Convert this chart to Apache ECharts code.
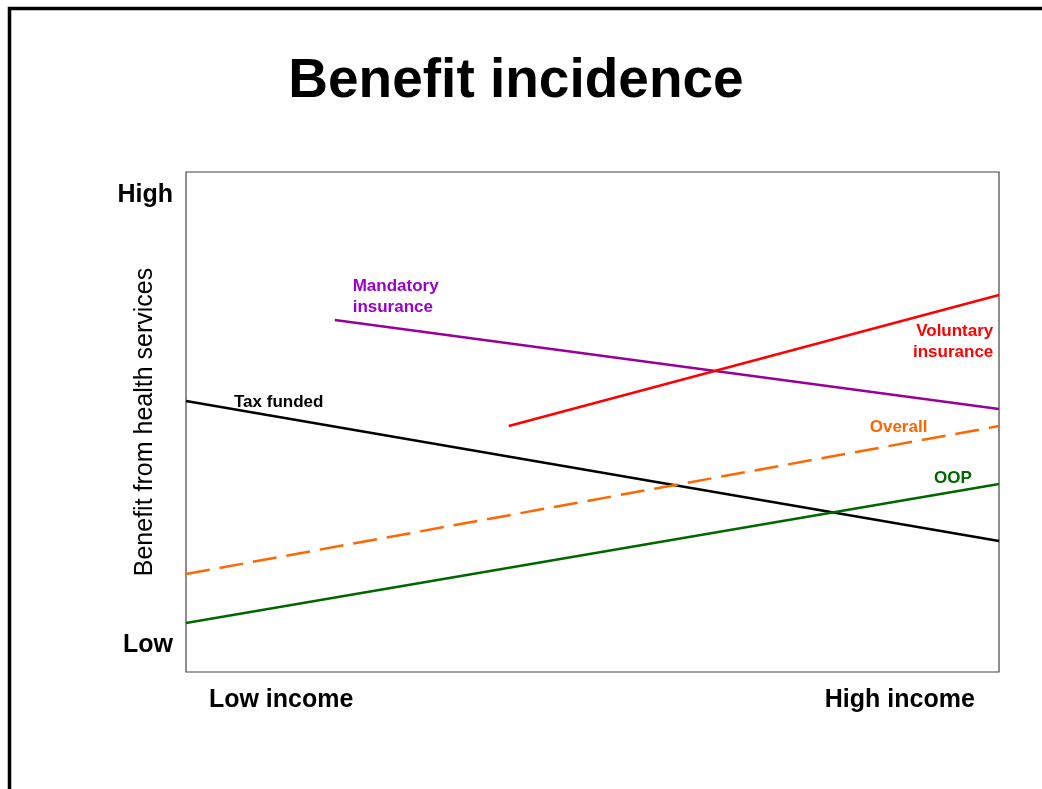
<!DOCTYPE html>
<html>
<head>
<meta charset="utf-8">
<script src="https://cdn.jsdelivr.net/npm/echarts@6/dist/echarts.min.js"></script>
<style>
html,body{margin:0;padding:0;background:#fff;}
#chart{width:1042px;height:789px;}
</style>
</head>
<body>
<div id="chart"></div>
<script>
// Income position (0 = low, 100 = high) and benefit level (0 = low, 100 = high)
const taxX = [0, 100];
const taxY = [54.2, 26.2];
const mandatoryX = [18.3, 100];
const mandatoryY = [70.4, 52.6];
const voluntaryX = [39.7, 100];
const voluntaryY = [49.2, 75.4];
const overallX = [0, 100];
const overallY = [19.6, 49.2];
const oopX = [0, 100];
const oopY = [9.8, 37.6];

const xTickValues = [11.7, 87.8];
const xTickLabels = ['Low income', 'High income'];
const yTickValues = [5.4, 95.4];
const yTickLabels = ['Low', 'High'];

const FONT = '"Liberation Sans", Arial, Helvetica, sans-serif';

function pts(xs, ys) { return xs.map((x, i) => [x, ys[i]]); }

function lineSeries(name, xs, ys, color, lbl, lineType) {
  return {
    name: name,
    type: 'line',
    data: pts(xs, ys),
    symbol: 'none',
    silent: true,
    lineStyle: { color: color, width: 2.5, type: lineType || 'solid' },
    markPoint: {
      symbol: 'circle',
      symbolSize: 0,
      silent: true,
      data: [{
        coord: lbl.coord,
        label: {
          show: true,
          formatter: lbl.text,
          color: lbl.color || color,
          fontFamily: FONT,
          fontWeight: 'bold',
          fontSize: 17,
          lineHeight: 21,
          position: lbl.align === 'right' ? 'left' : 'right',
          distance: 0,
          align: lbl.align || 'left',
          verticalAlign: 'middle'
        }
      }]
    }
  };
}

const chart = echarts.init(document.getElementById('chart'), null, { renderer: 'canvas' });

chart.setOption({
  backgroundColor: '#ffffff',
  animation: false,
  title: {
    text: 'Benefit incidence',
    left: 511,
    top: 48,
    textAlign: 'center',
    textStyle: { fontFamily: FONT, fontWeight: 'bold', fontSize: 55, color: '#000', lineHeight: 58 }
  },
  graphic: [{
    type: 'polyline',
    silent: true,
    shape: { points: [[9.5, 789], [9.5, 8.5], [1042, 8.5]] },
    style: { stroke: '#000', lineWidth: 3.5, fill: null }
  }],
  grid: {
    left: 186, top: 172, right: 43, bottom: 117,
    show: true, borderColor: '#444', borderWidth: 1.2, backgroundColor: 'transparent'
  },
  xAxis: {
    type: 'value', min: 0, max: 100,
    axisLine: { show: false },
    axisTick: { show: false },
    splitLine: { show: false },
    axisLabel: {
      show: true,
      customValues: xTickValues,
      formatter: function (v) {
        const i = xTickValues.findIndex(t => Math.abs(t - v) < 1e-6);
        return i >= 0 ? xTickLabels[i] : '';
      },
      margin: 16,
      color: '#000', fontFamily: FONT, fontWeight: 'bold', fontSize: 25
    }
  },
  yAxis: {
    type: 'value', min: 0, max: 100,
    name: 'Benefit from health services',
    nameLocation: 'middle',
    nameRotate: 90,
    nameGap: 28,
    nameMoveOverlap: false,
    nameTextStyle: { color: '#000', fontFamily: FONT, fontSize: 25, fontWeight: 'normal' },
    axisLine: { show: false },
    axisTick: { show: false },
    splitLine: { show: false },
    axisLabel: {
      show: true,
      customValues: yTickValues,
      formatter: function (v) {
        const i = yTickValues.findIndex(t => Math.abs(t - v) < 1e-6);
        return i >= 0 ? yTickLabels[i] : '';
      },
      margin: 13,
      color: '#000', fontFamily: FONT, fontWeight: 'bold', fontSize: 25
    }
  },
  series: [
    lineSeries('Tax funded', taxX, taxY, '#000000', { coord: [5.9, 54], text: 'Tax funded' }),
    lineSeries('Mandatory insurance', mandatoryX, mandatoryY, '#990099', { coord: [20.5, 75.1], text: 'Mandatory\ninsurance', color: '#9900cc' }),
    lineSeries('Voluntary insurance', voluntaryX, voluntaryY, '#ff0000', { coord: [99.3, 66.1], text: 'Voluntary\ninsurance', align: 'right' }),
    lineSeries('Overall', overallX, overallY, '#ff6600', { coord: [84.1, 49], text: 'Overall' }, [24, 10]),
    lineSeries('OOP', oopX, oopY, '#006600', { coord: [92, 38.8], text: 'OOP' })
  ]
});
</script>
</body>
</html>
